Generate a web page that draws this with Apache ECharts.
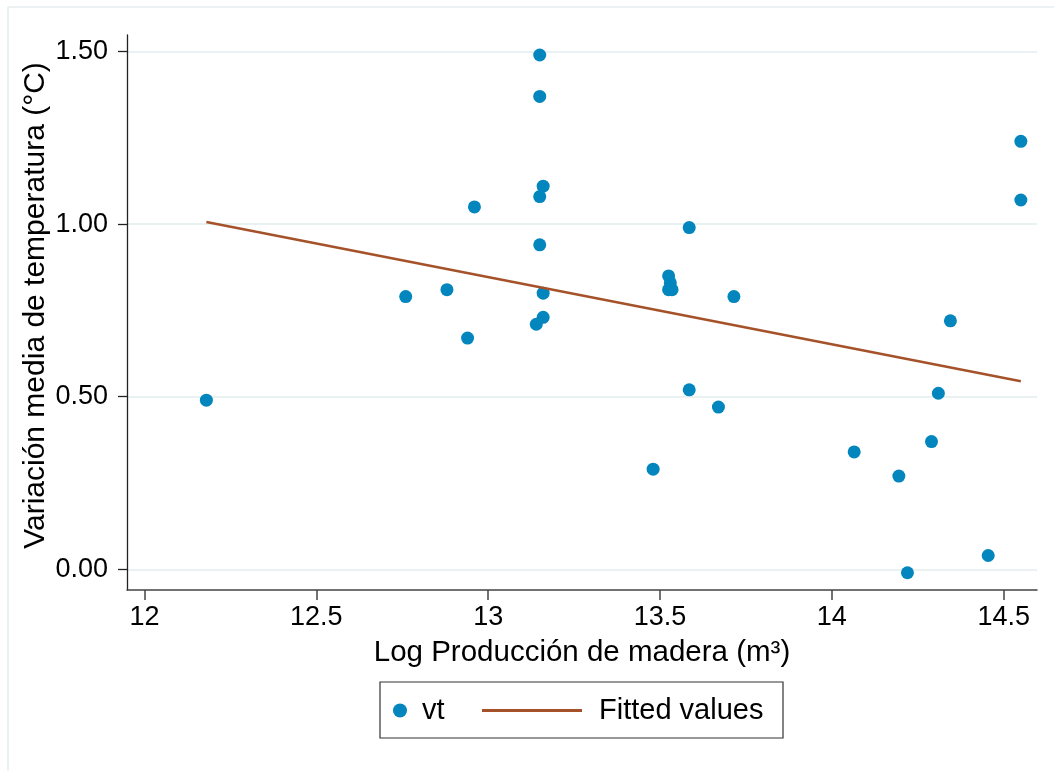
<!DOCTYPE html>
<html>
<head>
<meta charset="utf-8">
<script src="https://cdn.jsdelivr.net/npm/echarts@6/dist/echarts.min.js"></script>
<style>
    html, body { margin: 0; background: #fff; }
    #main { width: 1054px; height: 771px; }
</style>
</head>
<body>
<div id="main"></div>
<script>
// datos
const vtX = [12.18, 12.76, 12.88, 12.94, 12.96, 13.15, 13.15, 13.16, 13.15, 13.15, 13.16,
    13.16, 13.14, 13.48, 13.525, 13.53, 13.525, 13.535, 13.585, 13.585, 13.67, 13.715,
    14.065, 14.195, 14.22, 14.29, 14.31, 14.345, 14.455, 14.55, 14.55]
const vtY = [0.49, 0.79, 0.81, 0.67, 1.05, 1.49, 1.37, 1.11, 1.08, 0.94, 0.80,
    0.73, 0.71, 0.29, 0.85, 0.83, 0.81, 0.81, 0.99, 0.52, 0.47, 0.79,
    0.34, 0.27, -0.01, 0.37, 0.51, 0.72, 0.04, 1.24, 1.07]
// valores ajustados (extremos de la recta)
const fitX = [12.18, 14.55]
const fitY = [1.006, 0.545]
const xTicks = [12, 12.5, 13, 13.5, 14, 14.5]
const yTicks = [0, 0.5, 1, 1.5]

const FONT = 'Liberation Sans'
const BLUE = '#0286bd'
const BROWN = '#a5522b'

let chart = echarts.init(document.getElementById('main'))

let option = {
    animation: false,
    backgroundColor: '#fff',
    textStyle: { fontFamily: FONT },
    grid: { left: 127, top: 35, right: 17, bottom: 181, outerBoundsMode: 'none' },
    xAxis: {
        type: 'value',
        min: 11.949,
        max: 14.597,
        name: 'Log Producción de madera (m³)',
        nameLocation: 'middle',
        nameGap: 48,
        nameTextStyle: { fontSize: 29.5, color: '#000', fontFamily: FONT },
        axisLine: { show: true, onZero: false, lineStyle: { color: '#444', width: 1.5 } },
        axisTick: { show: true, length: 10, customValues: xTicks, lineStyle: { color: '#444', width: 1.5 } },
        axisLabel: { customValues: xTicks, fontSize: 27, color: '#000', margin: 14, fontFamily: FONT },
        splitLine: { show: false }
    },
    yAxis: {
        type: 'value',
        min: -0.06,
        max: 1.548,
        name: 'Variación media de temperatura (°C)',
        nameLocation: 'middle',
        nameGap: 76,
        nameMoveOverlap: false,
        nameTextStyle: { fontSize: 30, color: '#000', fontFamily: FONT, padding: [0, 0, 0, 14] },
        axisLine: { show: true, onZero: false, lineStyle: { color: '#222', width: 1.3 } },
        axisTick: { show: true, length: 9, customValues: yTicks, lineStyle: { color: '#222', width: 1.3 } },
        axisLabel: {
            customValues: yTicks, fontSize: 27, color: '#000', margin: 19, fontFamily: FONT,
            formatter: v => v.toFixed(2)
        },
        splitLine: { show: true, lineStyle: { color: '#e9f1f3', width: 2 } }
    },
    legend: [
        {
            data: [{ name: 'vt', icon: 'circle' }],
            left: 393, top: 696, padding: 0,
            itemWidth: 14, itemHeight: 14,
            textStyle: { fontSize: 29, color: '#000', fontFamily: FONT, lineHeight: 28, padding: [0, 0, 0, 10] }
        },
        {
            data: [{ name: 'Fitted values', icon: 'rect' }],
            left: 482, top: 696, padding: 0,
            itemWidth: 100, itemHeight: 3,
            textStyle: { fontSize: 29, color: '#000', fontFamily: FONT, lineHeight: 28, padding: [0, 0, 0, 12] }
        }
    ],
    graphic: [
        {
            type: 'rect', silent: true, z: -10,
            shape: { x: 8, y: 7, width: 1200, height: 900 },
            style: { fill: 'none', stroke: '#e6eef0', lineWidth: 1.5 }
        },
        {
            type: 'rect', silent: true,
            shape: { x: 380, y: 682, width: 403, height: 56 },
            style: { fill: 'none', stroke: '#333', lineWidth: 1.2 }
        }
    ],
    series: [
        {
            name: 'vt',
            type: 'scatter',
            symbol: 'circle',
            symbolSize: 13,
            itemStyle: { color: BLUE, opacity: 1 },
            data: vtX.map((x, i) => [x, vtY[i]])
        },
        {
            name: 'Fitted values',
            type: 'line',
            showSymbol: false,
            symbol: 'none',
            lineStyle: { color: BROWN, width: 2.6 },
            itemStyle: { color: BROWN },
            data: fitX.map((x, i) => [x, fitY[i]])
        }
    ]
}

chart.setOption(option)
</script>
</body>
</html>
